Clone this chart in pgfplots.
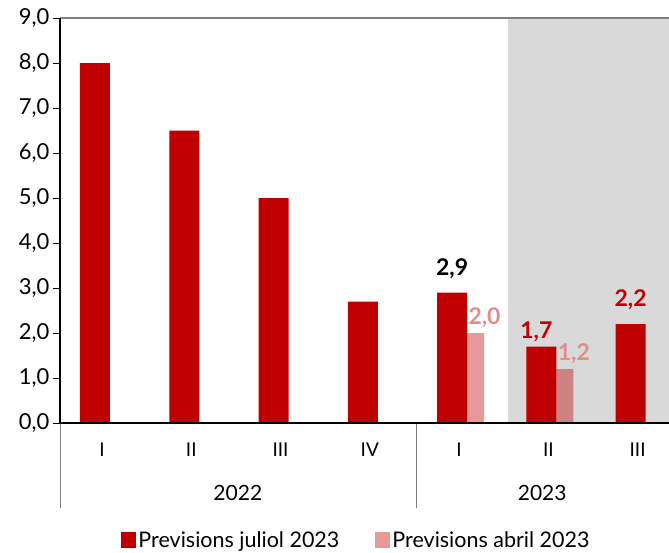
\documentclass[border=0pt]{standalone}
\usepackage{fontspec}
\setmainfont{Lato}
\usepackage{pgfplots}
\pgfplotsset{compat=1.18}
\definecolor{dred}{HTML}{C00000}
\definecolor{bggray}{HTML}{D9D9D9}
\definecolor{topline}{HTML}{7F7F7F}
\pgfplotsset{sqleg/.style={legend image code/.code={\fill[##1] (0pt,-8pt) rectangle (15pt,8pt);}}}
\begin{document}
\begin{tikzpicture}
\useasboundingbox (-60pt,-129pt) rectangle (609pt,423pt);
\begin{axis}[
  at={(0,0)}, anchor=south west,
  scale only axis, width=609pt, height=405pt,
  xmin=-0.392, xmax=6.43, ymin=0, ymax=9,
  axis x line*=bottom, axis y line*=left,
  axis line style={black, line width=1.3pt},
  axis on top,
  clip=false,
  xtick={0,...,6}, xticklabels={I,II,III,IV,I,II,III},
  xtick style={draw=none},
  xticklabel style={font=\fontsize{19}{19}\selectfont, yshift=-9pt, xshift=7pt},
  ytick={0,1,...,9},
  tick align=outside, major tick length=7pt,
  ytick style={black, line width=1pt},
  yticklabel style={font=\fontsize{22}{22}\selectfont, /pgf/number format/.cd, fixed, fixed zerofill, precision=1, use comma, assume math mode=true},
  legend style={at={(0.5,0)}, anchor=center, yshift=-117pt, xshift=-8pt, draw=none, fill=none,
    font=\fontsize{21.5}{21.5}\selectfont, legend columns=2,
    /tikz/every even column/.append style={column sep=34pt}},
]
\fill[bggray] (axis cs:4.627,0) rectangle (axis cs:6.43,9);
\draw[topline, line width=1.3pt] (rel axis cs:0,1) -- (rel axis cs:1,1);
\addplot[ybar, sqleg, bar width=0.336, bar shift=0, fill=dred, draw=none]
  coordinates {(0,8.0) (1,6.5) (2,5.0) (3,2.7) (4,2.9) (5,1.7) (6,2.2)};
\addlegendentry{Previsions juliol 2023}
\addplot[ybar, sqleg, bar width=0.19, bar shift=0.263, fill=dred, fill opacity=0.4, draw=none]
  coordinates {(4,2.0) (5,1.2)};
\addlegendentry{Previsions abril 2023}
% value labels
\addplot[draw=none, mark=none, forget plot, nodes near coords, point meta=explicit symbolic,
  nodes near coords style={font=\bfseries\fontsize{23}{23}\selectfont, text=black, anchor=center, yshift=24pt}]
  coordinates {(4,2.9) [2,9]};
\addplot[draw=none, mark=none, forget plot, nodes near coords, point meta=explicit symbolic,
  nodes near coords style={font=\bfseries\fontsize{23}{23}\selectfont, text=dred, anchor=center, yshift=24pt}]
  coordinates {(6,2.2) [2,2]};
\addplot[draw=none, mark=none, forget plot, nodes near coords, point meta=explicit symbolic,
  nodes near coords style={font=\bfseries\fontsize{23}{23}\selectfont, text=dred, anchor=center, yshift=15pt, xshift=-5pt}]
  coordinates {(5,1.7) [1,7]};
\addplot[draw=none, mark=none, forget plot, nodes near coords, point meta=explicit symbolic,
  nodes near coords style={font=\bfseries\fontsize{23}{23}\selectfont, text=dred!45!white, anchor=center, yshift=15pt, xshift=9pt}]
  coordinates {(4.263,2.0) [2,0] (5.263,1.2) [1,2]};
% category separators and year labels
\draw[topline, line width=0.9pt] (rel axis cs:0,0) -- ([yshift=-85pt]rel axis cs:0,0);
\draw[topline, line width=0.9pt] (axis cs:3.597,0) -- ([yshift=-85pt]axis cs:3.597,0);
\node[font=\fontsize{21}{21}\selectfont] at ([yshift=-70pt]axis cs:1.6,0) {2022};
\node[font=\fontsize{21}{21}\selectfont] at ([yshift=-70pt]axis cs:5.01,0) {2023};
\end{axis}
\end{tikzpicture}
\end{document}
